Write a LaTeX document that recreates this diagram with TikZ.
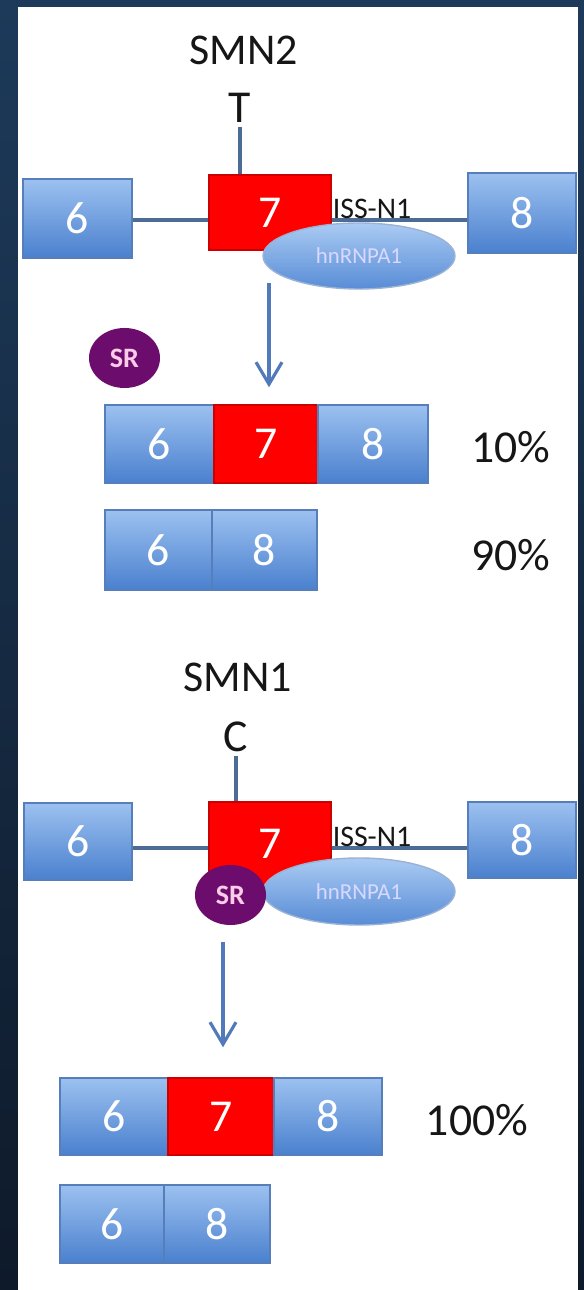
\documentclass[tikz,border=0pt]{standalone}
\usepackage{fontspec}
\setmainfont{Carlito}
\usetikzlibrary{arrows.meta,shapes.geometric}
\definecolor{slate}{RGB}{29, 58, 90}
\definecolor{slatedark}{RGB}{14, 26, 42}
\definecolor{exontop}{RGB}{156, 193, 240}
\definecolor{exonbot}{RGB}{74, 128, 206}
\definecolor{exonrim}{RGB}{86, 126, 186}
\definecolor{prottop}{RGB}{170, 203, 243}
\definecolor{protbot}{RGB}{88, 140, 214}
\definecolor{linkblue}{RGB}{76, 108, 150}
\definecolor{arrowblue}{RGB}{80, 122, 186}
\definecolor{srpurple}{RGB}{108, 12, 108}
\definecolor{inkblack}{RGB}{22, 22, 22}

\tikzset{
  box/.style      = {draw, thin, inner sep=0pt, text=white, font=\fontsize{13}{13}\selectfont},
  exon/.style     = {box, draw=exonrim, top color=exontop, bottom color=exonbot},
  skipped/.style  = {box, draw=red!80!black, fill=red},
  protein/.style  = {ellipse, draw=exonrim!60, top color=prottop, bottom color=protbot, inner sep=0pt,
                     minimum width=1.92cm, minimum height=0.66cm, text=blue!15, font=\fontsize{6.5}{6.5}\selectfont},
  sr/.style       = {ellipse, fill=srpurple, inner sep=0pt, minimum width=0.71cm, minimum height=0.60cm,
                     text=magenta!20, font=\bfseries\fontsize{8}{8}\selectfont},
  gene/.style     = {text=inkblack, inner sep=1pt, font=\fontsize{12.5}{12.5}\selectfont},
  base/.style     = {text=inkblack, inner sep=1pt, font=\fontsize{13}{13}\selectfont},
  site/.style     = {text=inkblack, inner sep=0pt, anchor=base, font=\fontsize{8.5}{8.5}\selectfont},
  pct/.style      = {text=inkblack, font=\fontsize{13}{13}\selectfont},
  link/.style     = {draw=linkblue, line width=1.1pt},
  flow/.style     = {draw=arrowblue, line width=0.9pt, -{Straight Barb[length=2.2mm,width=2.6mm]}}
}

\begin{document}
\begin{tikzpicture}
            \shade[top color=slate, bottom color=slatedark]               (0.00, 0.00) rectangle (5.84,12.90);
            \fill[white]                                                  (0.18, 0.00) rectangle (5.78,12.83);

            % SMN2 pre-mRNA
            \node[gene]                                    (smn2)  at (2.44,12.40) {SMN2};
            \node[base]                                    (tbase) at (2.40,11.82) {T};
            \coordinate                                    (uline) at (0.00,10.70);
            \node[exon,    minimum width=1.09cm, minimum height=0.79cm] (u6) at (0.775,10.715) {6};
            \node[skipped, minimum width=1.22cm, minimum height=0.75cm] (u7) at (2.700,10.775) {7};
            \node[exon,    minimum width=1.08cm, minimum height=0.80cm] (u8) at (5.220,10.770) {8};
            \draw[link] (tbase.south) -- (tbase.south |- u7.north);
            \draw[link] (u6.east |- uline) -- (u7.west |- uline);
            \draw[link] (u7.east |- uline) -- (u8.west |- uline);
            \node[site]                                    (uiss)  at (3.72,10.71) {ISS-N1};
            \node[protein]                                 (uhn)   at (3.59,10.34) {hnRNPA1};
            \node[sr]                                      (usr)   at (1.245,9.32) {SR};
            \coordinate                                    (uarr)  at (2.69,10.07);

            % SMN2 products
            \node[exon,    minimum width=1.09cm, minimum height=0.78cm] (a6) at (1.595,8.46) {6};
            \node[skipped, minimum width=1.04cm, minimum height=0.78cm] (a7) at (2.660,8.46) {7};
            \node[exon,    minimum width=1.10cm, minimum height=0.78cm] (a8) at (3.730,8.46) {8};
            \node[exon,    minimum width=1.07cm, minimum height=0.80cm] (b6) at (1.585,7.40) {6};
            \node[exon,    minimum width=1.05cm, minimum height=0.80cm] (b8) at (2.645,7.40) {8};
            \draw[flow, shorten >=1.7mm] (uarr) -- (uarr |- a7.north);
            \node[pct]                                     (p10)   at (5.11,8.43) {10\%};
            \node[pct]                                     (p90)   at (5.11,7.35) {90\%};

            % SMN1 pre-mRNA
            \node[gene]                                    (smn1)  at (2.38,6.13) {SMN1};
            \node[base]                                    (cbase) at (2.36,5.53) {C};
            \coordinate                                    (lline) at (0.00,4.42);
            \node[exon,    minimum width=1.08cm, minimum height=0.77cm] (l6) at (0.780,4.485) {6};
            \node[skipped, minimum width=1.22cm, minimum height=0.83cm] (l7) at (2.700,4.465) {7};
            \node[exon,    minimum width=1.08cm, minimum height=0.76cm] (l8) at (5.220,4.500) {8};
            \draw[link] (cbase.south) -- (cbase.south |- l7.north);
            \draw[link] (l6.east |- lline) -- (l7.west |- lline);
            \draw[link] (l7.east |- lline) -- (l8.west |- lline);
            \node[site]                                    (liss)  at (3.72,4.43) {ISS-N1};
            \node[protein, minimum height=0.67cm]          (lhn)   at (3.59,3.985) {hnRNPA1};
            \node[sr]                                      (lsr)   at (2.305,3.95) {SR};
            \coordinate                                    (larr)  at (2.23,3.48);

            % SMN1 products
            \node[exon,    minimum width=1.08cm, minimum height=0.77cm] (c6) at (1.140,1.735) {6};
            \node[skipped, minimum width=1.06cm, minimum height=0.77cm] (c7) at (2.210,1.735) {7};
            \node[exon,    minimum width=1.08cm, minimum height=0.77cm] (c8) at (3.280,1.735) {8};
            \node[exon,    minimum width=1.04cm, minimum height=0.78cm] (d6) at (1.120,0.660) {6};
            \node[exon,    minimum width=1.06cm, minimum height=0.78cm] (d8) at (2.170,0.660) {8};
            \draw[flow, shorten >=3.0mm] (larr) -- (larr |- c7.north);
            \node[pct]                                     (p100)  at (4.77,1.70) {100\%};
\end{tikzpicture}
\end{document}
